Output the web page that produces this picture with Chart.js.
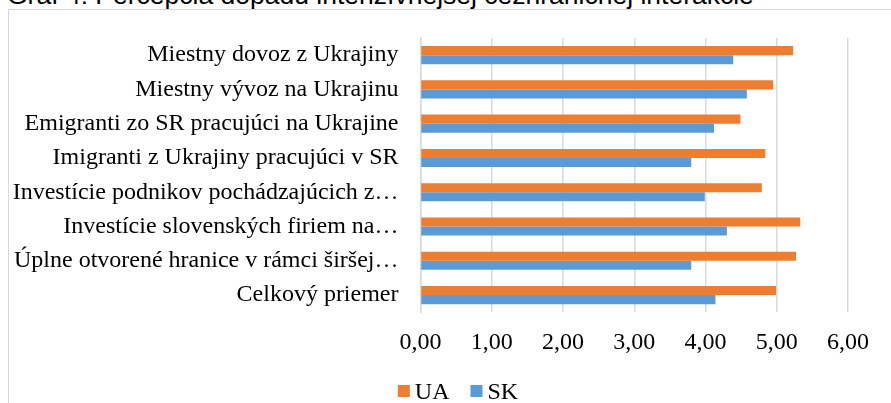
<!DOCTYPE html>
<html>
<head>
<meta charset="utf-8">
<script src="https://cdn.jsdelivr.net/npm/chart.js@4/dist/chart.umd.min.js"></script>
<style>
  html, body { margin: 0; padding: 0; background: #fff; overflow: hidden; }
  body { width: 891px; height: 403px; position: relative; }
  #title {
    position: absolute; left: 7px; top: -18px;
    font: 26.5px "Liberation Sans", sans-serif; line-height: 26px;
    color: #000; white-space: nowrap;
  }
  #frame {
    position: absolute; left: 8px; top: 9px; width: 900px; height: 420px;
    border: 1px solid #d9d9d9; box-sizing: border-box;
  }
  #wrap { position: absolute; left: 8px; top: 9px; width: 900px; height: 394px; }
</style>
</head>
<body>
<div id="title">Graf 4: Percepcia dopadu intenzívnejšej cezhraničnej interakcie</div>
<div id="frame"></div>
<div id="wrap"><canvas id="chart"></canvas></div>
<script>
// categories, top to bottom (long ones are cut off in the source too)
const categories = [
  'Miestny dovoz z Ukrajiny',
  'Miestny vývoz na Ukrajinu',
  'Emigranti zo SR pracujúci na Ukrajine',
  'Imigranti z Ukrajiny pracujúci v SR',
  'Investície podnikov pochádzajúcich z…',
  'Investície slovenských firiem na…',
  'Úplne otvorené hranice v rámci širšej…',
  'Celkový priemer'
];
const uaValues = [5.23, 4.95, 4.49, 4.84, 4.79, 5.33, 5.27, 4.99];
const skValues = [4.39, 4.58, 4.12, 3.80, 3.99, 4.30, 3.80, 4.14];
const xTicks = [0, 1, 2, 3, 4, 5, 6];

const serif = '"Liberation Serif", "Times New Roman", serif';

// legend drawn by hand so it can sit centred under the whole frame, Excel style
const bottomLegend = {
  id: 'bottomLegend',
  afterDraw(chart) {
    const c = chart.ctx;
    const box = 12, gap = 5, spacing = 21;
    c.save();
    c.font = '24px ' + serif;
    const items = chart.data.datasets.map(ds => ({
      text: ds.label, color: ds.backgroundColor, w: box + gap + c.measureText(ds.label).width
    }));
    const total = items.reduce((s, it) => s + it.w, 0) + spacing * (items.length - 1);
    let x = chart.width / 2 - total / 2;
    const yMid = 382;
    items.forEach(it => {
      c.fillStyle = it.color;
      c.fillRect(x, yMid - box / 2, box, box);
      c.fillStyle = '#000';
      c.textBaseline = 'alphabetic';
      c.fillText(it.text, x + box + gap, yMid + 8);
      x += it.w + spacing;
    });
    c.restore();
  }
};

const ctx = document.getElementById('chart').getContext('2d');
new Chart(ctx, {
  type: 'bar',
  data: {
    labels: categories,
    datasets: [
      { label: 'UA', data: uaValues, backgroundColor: '#ED7D31' },
      { label: 'SK', data: skValues, backgroundColor: '#5B9BD5' }
    ]
  },
  options: {
    indexAxis: 'y',
    responsive: true,
    maintainAspectRatio: false,
    animation: false,
    layout: { padding: { top: 29, left: 0, right: 60, bottom: 30 } },
    datasets: { bar: { categoryPercentage: 0.53, barPercentage: 1.0 } },
    scales: {
      x: {
        min: 0, max: 6,
        afterBuildTicks: (scale) => { scale.ticks = xTicks.map(v => ({ value: v })); },
        grid: { color: '#d9d9d9', lineWidth: 1.5, drawTicks: false },
        border: { display: false },
        ticks: {
          padding: 16,
          color: '#000',
          font: { family: serif, size: 24 },
          callback: (v) => Number(v).toFixed(2).replace('.', ',')
        }
      },
      y: {
        afterFit: (scale) => {
          scale.width = 412.5;
          // labels sit inside bands, no extra room needed above/below
          scale.paddingTop = 0;
          scale.paddingBottom = 0;
        },
        grid: { display: false, drawTicks: false },
        border: { display: true, color: '#d9d9d9', width: 1.5 },
        ticks: {
          padding: 22,
          color: '#000',
          font: { family: serif, size: 24 },
          autoSkip: false
        }
      }
    },
    plugins: {
      legend: { display: false },
      tooltip: { enabled: false }
    }
  },
  plugins: [bottomLegend]
});
</script>
</body>
</html>
